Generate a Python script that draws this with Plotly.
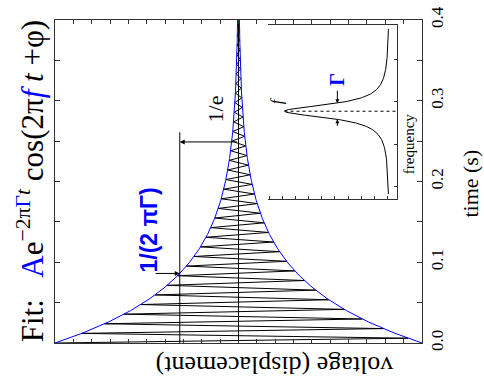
import numpy as np
import plotly.graph_objects as go

# ---- values ----
amplitude = 1.0          # A
decay_time = 0.0756      # 1/(2*pi*Gamma), s
freq = 84.0              # f, Hz
one_over_e_level = 0.32  # level of the drawn 1/e marker line
one_over_e_line_end = 0.261  # s
t_max = 0.4

# inset (resonance curve), schematic units
inset_center = 2.78
inset_halfwidth = 0.19
inset_peak = 0.80
inset_base = 0.0
inset_f_min = 0.83
inset_f_max = 4.72

# ---- series ----
t_ext = np.arange(0, t_max + 1e-9, 1.0 / (2 * freq))
v_osc = amplitude * np.exp(-t_ext / decay_time) * np.cos(2 * np.pi * freq * t_ext)
t_env = np.linspace(0, t_max, 400)
env = amplitude * np.exp(-t_env / decay_time)

fi = np.linspace(inset_f_min, inset_f_max, 600)
lor = inset_base + inset_peak / (1 + ((fi - inset_center) / inset_halfwidth) ** 2)

SERIF = "Liberation Serif"
BLUE = "#0000ff"
AX = "#333333"

fig = go.Figure()
fig.add_trace(go.Scatter(x=v_osc, y=t_ext, mode="lines",
                         line=dict(color="black", width=1), hoverinfo="skip"))
fig.add_trace(go.Scatter(x=env, y=t_env, mode="lines",
                         line=dict(color=BLUE, width=1), hoverinfo="skip"))
fig.add_trace(go.Scatter(x=-env, y=t_env, mode="lines",
                         line=dict(color=BLUE, width=1), hoverinfo="skip"))
fig.add_trace(go.Scatter(x=[one_over_e_level, one_over_e_level], y=[0, one_over_e_line_end],
                         mode="lines", line=dict(color="black", width=1), hoverinfo="skip"))

# inset
fig.add_trace(go.Scatter(x=lor, y=fi, mode="lines", xaxis="x2", yaxis="y2",
                         line=dict(color="black", width=1), hoverinfo="skip"))
fig.add_trace(go.Scatter(x=[inset_peak, -0.07], y=[inset_center, inset_center], mode="lines",
                         xaxis="x2", yaxis="y2",
                         line=dict(color="black", width=1, dash="dot"), hoverinfo="skip"))

t_tau = decay_time * np.log(amplitude / one_over_e_level)

C = dict(xanchor="center", yanchor="middle", showarrow=False)
ann = []
# 1/e arrow
ann.append(dict(x=one_over_e_level, y=0.249, ax=0.0, ay=0.249, xref="x", yref="y",
                axref="x", ayref="y", text="", showarrow=True, arrowhead=2,
                arrowside="end", arrowsize=1, arrowwidth=1, arrowcolor="black"))
ann.append(dict(x=0.125, y=0.29, xref="x", yref="y", text="1/e",
                textangle=-90, font=dict(family=SERIF, size=22, color="black"), **C))
# 1/(2 pi Gamma) arrow
ann.append(dict(x=one_over_e_level, y=t_tau, ax=0.46, ay=t_tau, xref="x", yref="y",
                axref="x", ayref="y", text="", showarrow=True, arrowhead=2,
                arrowsize=1, arrowwidth=1, arrowcolor="black"))
ann.append(dict(x=0.49, y=0.140, xref="x", yref="y", text="<b>1/(2 πΓ)</b>",
                textangle=-90, font=dict(family="Liberation Sans", size=23, color=BLUE), **C))
# title
ann.append(dict(x=-0.066, y=0.50, xref="paper", yref="paper", textangle=-90,
                text=("Fit:   <span style='color:#0000ff'>A</span>e<sup>−2π<span style='color:#0000ff'>Γ</span><i>t</i></sup>"
                      " cos(2π<span style='color:#0000ff'><i>f</i></span> <i>t</i> +φ)"),
                font=dict(family=SERIF, size=31, color="black"), **C))
# axis titles
ann.append(dict(x=1.132, y=0.495, xref="paper", yref="paper", text="time (s)",
                textangle=-90, font=dict(family=SERIF, size=22, color="black"), **C))
ann.append(dict(x=0.597, y=-0.07, xref="paper", yref="paper", text="voltage (displacement)",
                textangle=180, font=dict(family=SERIF, size=26, color="black"), **C))
# inset labels
ann.append(dict(x=0.86, y=3.03, xref="x2", yref="y2", text="<i>f</i>",
                textangle=-90, font=dict(family=SERIF, size=16, color="black"), **C))
ann.append(dict(x=0.397, y=3.53, xref="x2", yref="y2", text="<b>Γ</b>",
                textangle=-90, font=dict(family=SERIF, size=20, color=BLUE), **C))
ann.append(dict(x=0.397, y=inset_center + inset_halfwidth, ax=0.397, ay=3.30,
                xref="x2", yref="y2", axref="x2", ayref="y2", text="", showarrow=True,
                arrowhead=2, arrowsize=0.8, arrowwidth=1, arrowcolor="black"))
ann.append(dict(x=0.397, y=inset_center - inset_halfwidth, ax=0.397, ay=2.40,
                xref="x2", yref="y2", axref="x2", ayref="y2", text="", showarrow=True,
                arrowhead=2, arrowsize=0.8, arrowwidth=1, arrowcolor="black"))
ann.append(dict(x=0.963, y=0.617, xref="paper", yref="paper", text="frequency",
                textangle=-90, font=dict(family=SERIF, size=15, color="black"), **C))

fig.update_layout(
    width=484, height=383,
    margin=dict(l=55, r=62, t=6, b=40),
    paper_bgcolor="white", plot_bgcolor="white",
    showlegend=False,
    annotations=ann,
    xaxis=dict(range=[1, -1], dtick=0.1, tick0=0, ticks="inside", ticklen=4, tickcolor=AX,
               showticklabels=False, showline=True, linecolor=AX, linewidth=1, mirror="allticks",
               showgrid=False, zeroline=True, zerolinecolor="black", zerolinewidth=1),
    yaxis=dict(range=[0, 0.400001], side="right", dtick=0.1, tick0=0, ticks="inside", ticklen=5,
               tickcolor=AX, tickangle=-90, tickformat=".1f", ticklabeloverflow="allow",
               tickfont=dict(family=SERIF, size=17, color="black"),
               minor=dict(dtick=0.05, ticks="inside", ticklen=5, tickcolor=AX),
               showline=True, linecolor=AX, linewidth=1, mirror="allticks",
               showgrid=False, zeroline=False),
    xaxis2=dict(domain=[0.581, 0.933], anchor="y2", range=[0.924, -0.061], dtick=0.1, tick0=0.015,
                ticks="inside", ticklen=3, tickcolor=AX, showticklabels=False,
                showline=True, linecolor=AX, linewidth=1, mirror=True,
                showgrid=False, zeroline=False),
    yaxis2=dict(domain=[0.446, 0.983], anchor="x2", side="right", range=[0.713, 4.80], dtick=1, tick0=0,
                ticks="inside", ticklen=3, tickcolor=AX, showticklabels=False,
                showline=True, linecolor=AX, linewidth=1,
                showgrid=False, zeroline=False),
    yaxis3=dict(overlaying="y2", anchor="x2", side="left", range=[0.713, 4.80], dtick=0.5, tick0=0,
                ticks="inside", ticklen=3, tickcolor=AX, showticklabels=False,
                showline=True, linecolor=AX, linewidth=1,
                showgrid=False, zeroline=False),
)

fig.write_html("out.html", config={"displayModeBar": False},
               post_script="document.body.style.margin='0px';document.body.style.overflow='hidden';")
